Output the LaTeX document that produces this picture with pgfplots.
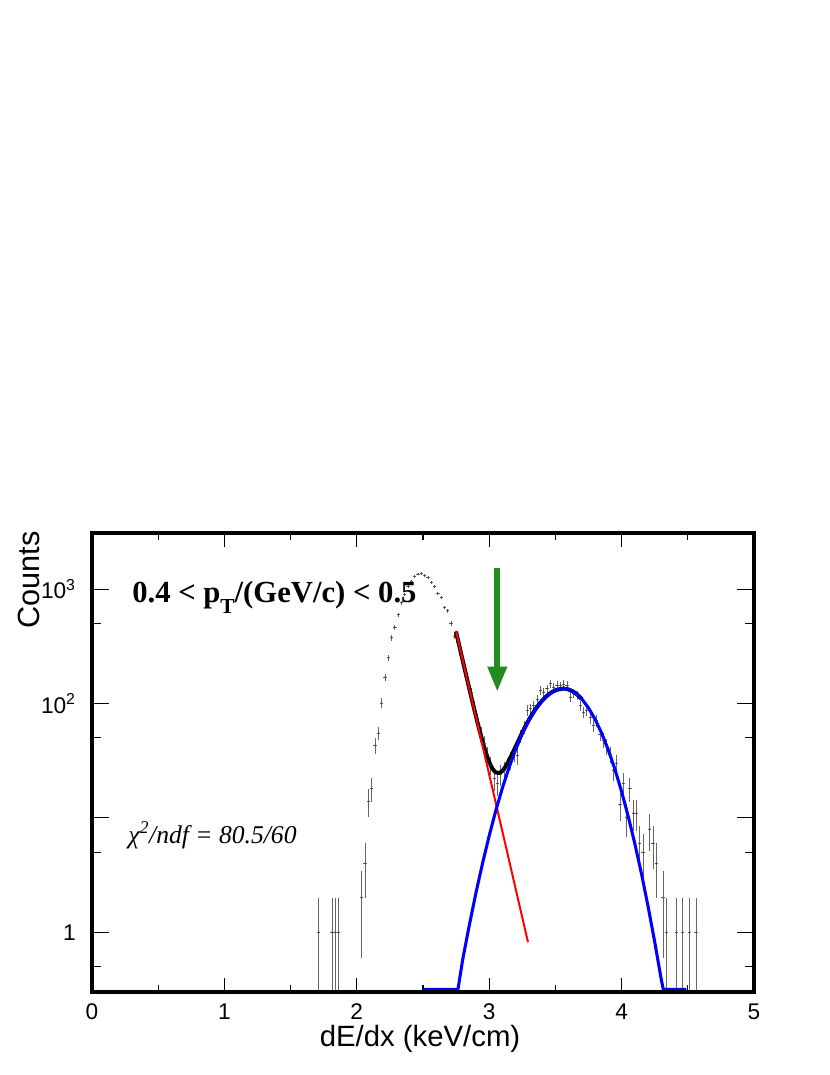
\documentclass[border=0pt]{standalone}
\usepackage{fontspec}
\setmainfont{Liberation Serif}
\newfontfamily\hel{Liberation Sans}
\usepackage{pgfplots}
\pgfplotsset{compat=1.18}
\usepackage{pgfplotstable}
\usetikzlibrary{arrows.meta}
\definecolor{fgreen}{RGB}{34,139,34}

\pgfplotstableread{
x y ep em
1.7125 1 1 0.999
1.8125 1 1 0.999
1.8375 1 1 0.999
1.8625 1 1 0.999
2.0375 2 1.41 1.41
2.0625 4 2 2
2.0875 14 3.74 3.74
2.1125 18 4.24 4.24
2.1375 43 6.56 6.56
2.1625 55 7.42 7.42
2.1875 101 10.05 10.05
2.2125 170 13.04 13.04
2.2375 251 15.84 15.84
2.2625 375 19.36 19.36
2.2875 464 21.54 21.54
2.3125 598 24.45 24.45
2.3375 760 27.57 27.57
2.3625 900 30.0 30.0
2.3875 1050 32.4 32.4
2.4125 1180 34.35 34.35
2.4375 1294 35.97 35.97
2.4625 1358 36.85 36.85
2.4875 1374 37.07 37.07
2.5125 1312 36.22 36.22
2.5375 1268 35.61 35.61
2.5625 1146 33.85 33.85
2.5875 1052 32.43 32.43
2.6125 919 30.32 30.32
2.6375 848 29.12 29.12
2.6625 693 26.32 26.32
2.6875 649 25.48 25.48
2.7125 503 22.43 22.43
2.7375 390 19.75 19.75
2.7625 340 18.44 18.44
2.7875 270 16.43 16.43
2.8125 212 14.56 14.56
2.8375 170 13.04 13.04
2.8625 125 11.18 11.18
2.8875 95 9.75 9.75
2.9125 72 8.49 8.49
2.9375 55 7.42 7.42
2.9625 45 6.71 6.71
2.9875 36 6.0 6.0
3.0125 29 5.39 5.39
3.0375 22 4.69 4.69
3.0625 20 4.47 4.47
3.0875 24 4.9 4.9
3.1125 26 5.1 5.1
3.1375 28 5.29 5.29
3.1625 32 5.66 5.66
3.1875 37 6.08 6.08
3.2125 35 5.92 5.92
3.2375 52 7.21 7.21
3.2625 62 7.87 7.87
3.2875 87 9.33 9.33
3.3125 90 9.49 9.49
3.3375 96 9.8 9.8
3.3625 108 10.39 10.39
3.3875 130 11.4 11.4
3.4125 126 11.22 11.22
3.4375 135 11.62 11.62
3.4625 149 12.21 12.21
3.4875 139 11.79 11.79
3.5125 144 12.0 12.0
3.5375 143 11.96 11.96
3.5625 148 12.17 12.17
3.5875 144 12.0 12.0
3.6125 114 10.68 10.68
3.6375 122 11.05 11.05
3.6625 118 10.86 10.86
3.6875 96 9.8 9.8
3.7125 84 9.17 9.17
3.7375 87 9.33 9.33
3.7625 75 8.66 8.66
3.7875 64 8.0 8.0
3.8125 71 8.43 8.43
3.8375 54 7.35 7.35
3.8625 48 6.93 6.93
3.8875 42 6.48 6.48
3.9125 36 6.0 6.0
3.9375 26 5.1 5.1
3.9625 30 5.48 5.48
3.9875 13 3.61 3.61
4.0125 20 4.47 4.47
4.0375 10 3.16 3.16
4.0625 18 4.24 4.24
4.0875 11 3.32 3.32
4.1125 11 3.32 3.32
4.1375 6 2.45 2.45
4.1625 5 2.24 2.24
4.2125 8 2.83 2.83
4.2375 6 2.45 2.45
4.2625 4 2 2
4.3125 2 1.41 1.41
4.3375 1 1 0.999
4.4125 1 1 0.999
4.4625 1 1 0.999
4.5125 1 1 0.999
4.5625 1 1 0.999
}\dataA

\begin{document}
\begin{tikzpicture}[x=1pt,y=1pt]
\path[use as bounding box] (0,0) rectangle (622.5,806.25);
\begin{axis}[
  at={(69pt,62.25pt)}, anchor=south west, scale only axis,
  width=496.5pt, height=344.25pt,
  xmin=0, xmax=5, ymode=log, ymin=0.3, ymax=3100,
  axis line style={line width=2.4pt},
  every tick/.append style={black, line width=0.8pt},
  xtick={0,1,2,3,4,5}, minor xtick={0.5,1.5,2.5,3.5,4.5},
  xticklabels={0,1,2,3,4,5},
  ytick={1}, yticklabels={}, yminorticks=false,
  major tick length=10.5pt, minor tick length=5pt,
  xtick pos=both, xticklabel pos=lower,
  xticklabel style={font=\hel\fontsize{17}{17}\selectfont, anchor=base, inner sep=0pt, yshift=-20.25pt},
  clip=true]
\addplot[only marks, mark=*, mark size=0.3pt, black!75,
  error bars/.cd, x dir=both, x fixed=0.0125, y dir=both, y explicit,
  error mark=none, error bar style={line width=0.6pt, black!60}]
  table[x=x, y=y, y error plus=ep, y error minus=em]{\dataA};
\addplot[black, line width=3pt, smooth] coordinates {
(2.749,425.6) (2.80,237.7) (2.85,134.6) (2.90,77.3) (2.925,59.3) (2.95,46.3) (2.975,37.0)
(3.00,30.8) (3.025,26.9) (3.05,25.0) (3.075,24.7) (3.10,25.8) (3.125,28.3) (3.15,31.9)
(3.20,42.1) (3.25,55.9) (3.30,72.1) (3.35,89.3) (3.40,106.1) (3.45,120.4) (3.50,130.4)
(3.56,134.9) (3.60,132.6) (3.65,123.6) (3.70,109.4)
};
\addplot[red, line width=1.5pt] coordinates {(2.749,432) (3.293,0.818)};
\addplot[blue, line width=2.3pt] coordinates {
(2.5,0.316) (2.764,0.316) (2.80,0.578) (2.85,1.156) (2.90,2.21) (2.95,4.02) (3.00,6.98)
(3.05,11.6) (3.10,18.3) (3.15,27.6) (3.20,39.7) (3.25,54.5) (3.30,71.3) (3.35,88.9)
(3.40,105.9) (3.45,120.3) (3.50,130.3) (3.53,133.5) (3.56,134.9) (3.60,132.6) (3.65,123.6) (3.70,109.4)
(3.75,91.6) (3.80,72.8) (3.85,54.8) (3.90,39.1) (3.95,26.5) (4.00,16.97) (4.05,10.3)
(4.10,5.94) (4.15,3.25) (4.20,1.68) (4.25,0.824) (4.30,0.384) (4.315,0.316) (4.49,0.316)
};
\draw[fgreen, line width=4.7pt, -{Triangle[width=13.5pt,length=19pt]}]
  (axis cs:3.061,1540) -- (axis cs:3.061,126);
\end{axis}
\begin{axis}[
  at={(69pt,62.25pt)}, anchor=south west, scale only axis,
  width=496.5pt, height=344.25pt,
  xmin=0, xmax=5, ymode=log, ymin=0.3, ymax=3100,
  axis line style={line width=2.4pt},
  every tick/.append style={black, line width=0.8pt},
  xtick={2.5}, xticklabels={}, xmajorticks=false,
  ytick={1,10,100,1000}, yticklabels={1,,10\textsuperscript{2},10\textsuperscript{3}},
  minor ytick={0.5,5,50,500},
  major tick length=13pt, minor tick length=7pt,
  ytick pos=both, yticklabel pos=left,
  yticklabel style={font=\hel\fontsize{17}{17}\selectfont, anchor=east, inner sep=0pt, xshift=-12pt}]
\end{axis}
\node[anchor=base west, inner sep=0pt, font=\bfseries\fontsize{23}{23}\selectfont] at (99,354)
  {0.4 < p\raisebox{-8pt}{\fontsize{16}{16}\selectfont T}/(GeV/c) < 0.5};
\node[anchor=base west, inner sep=0pt, font=\itshape\fontsize{19.2}{19.2}\selectfont] at (96,173.25)
  {χ\textsuperscript{2}/ndf = 80.5/60};
\node[rotate=90, anchor=east, inner sep=0pt, font=\hel\fontsize{23}{23}\selectfont] at (21.5,408) {Counts};
\node[anchor=base, inner sep=0pt, font=\hel\fontsize{22}{22}\selectfont] at (315,21.2) {dE/dx (keV/cm)};
\end{tikzpicture}
\end{document}
